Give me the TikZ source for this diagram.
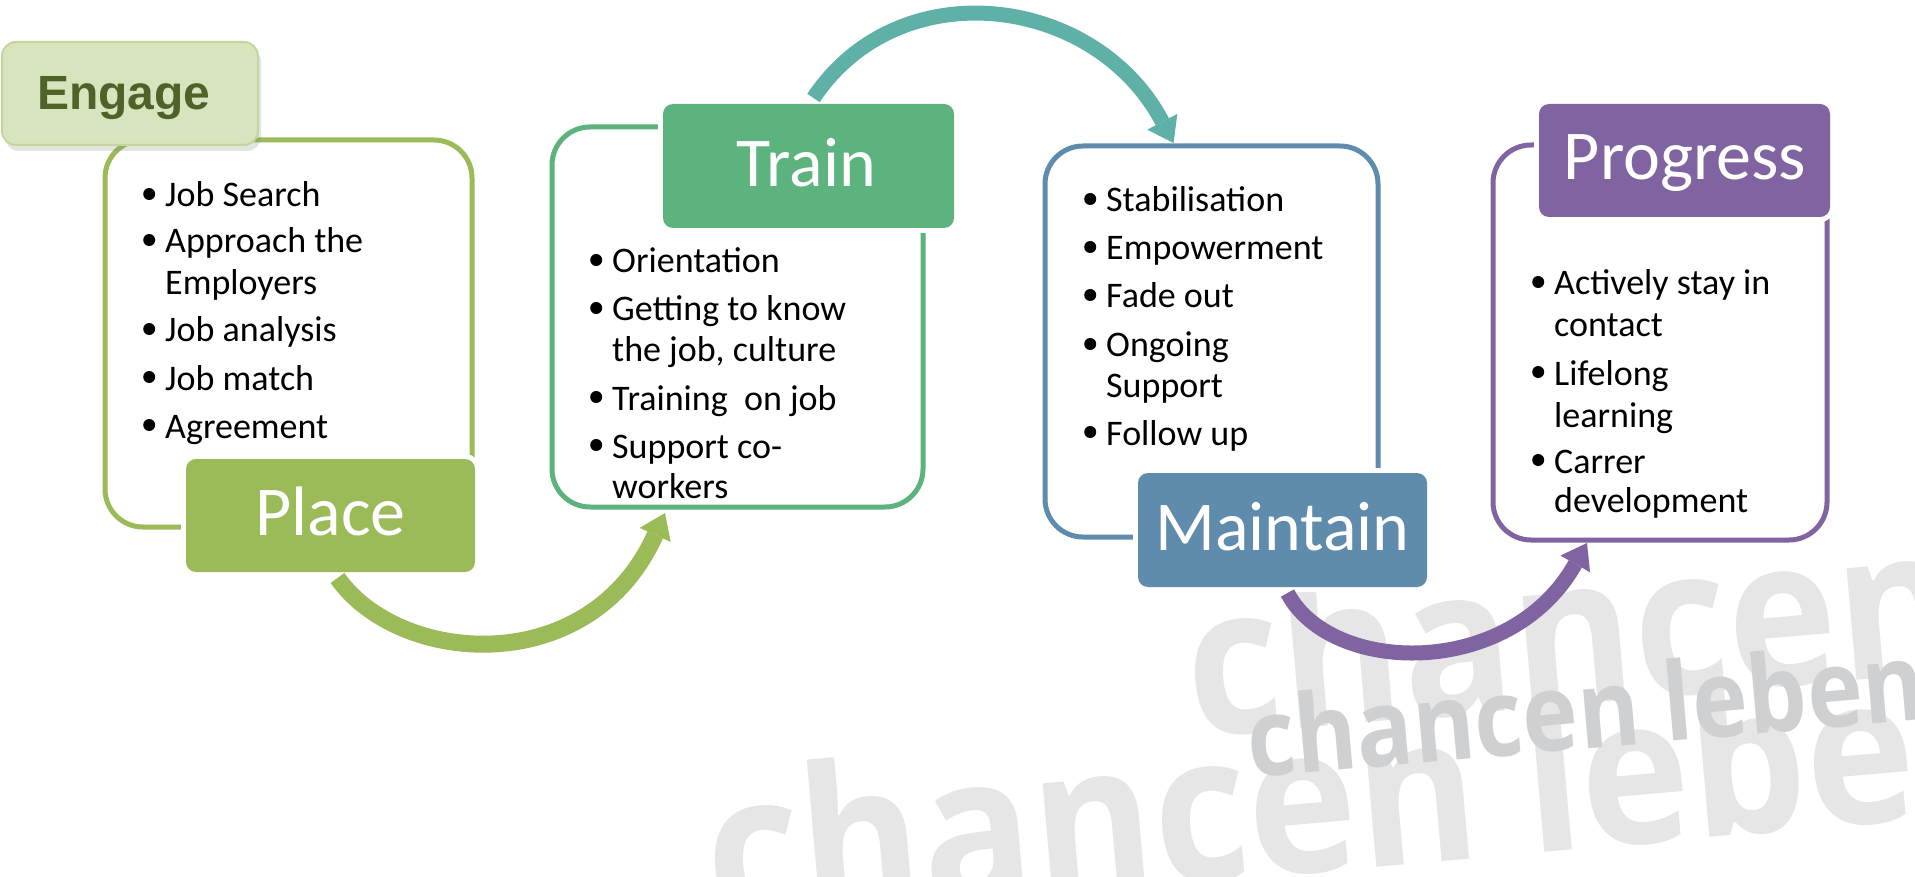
\documentclass[tikz,border=0pt]{standalone}
\usepackage{fontspec}
\setmainfont{Carlito}
\newfontfamily\engfont{Liberation Sans}
\newfontfamily\wmfont{Open Sans}
\usetikzlibrary{arrows.meta,calc,shadows}
\definecolor{placeC}{HTML}{9BBB59}
\definecolor{trainC}{HTML}{5DB37E}
\definecolor{tealC}{HTML}{5FB0A6}
\definecolor{maintC}{HTML}{5F8BAD}
\definecolor{progC}{HTML}{8064A2}
\definecolor{engFill}{HTML}{D7E4BD}
\definecolor{engLine}{HTML}{C3D69B}
\definecolor{engText}{HTML}{4F6228}
\definecolor{wmLight}{HTML}{E6E6E6}
\definecolor{wmDark}{HTML}{CFD0D2}
\newcommand\mybul{\makebox[22pt][l]{\tikz[baseline=0pt,x=1pt,y=1pt]\fill[black] (6,13) circle (6pt);}}
\begin{document}
\begin{tikzpicture}[x=1pt,y=-1pt,
  outl/.style={draw=#1, line width=5pt, rounded corners=38pt, inner sep=0pt, outer sep=0pt},
  hdr/.style={fill=#1, draw=none, rounded corners=10pt, inner sep=0pt, outer sep=0pt,
              preaction={draw=white, line width=10pt}},
  itm/.style={anchor=base west, inner sep=0pt, font=\fontsize{36}{40}\selectfont},
  lbl/.style={anchor=base, inner sep=0pt, text=white, font=\fontsize{70}{80}\selectfont},
  flow/.style={draw=#1, line width=15pt,
               -{Triangle[width=34pt,length=24pt,line width=0pt]}},
  wm/.style={anchor=base west, inner sep=0pt, rotate=5}
]
\useasboundingbox (0,0) rectangle (1915,877);
\fill[white] (0,0) rectangle (1915,877);

% watermark
\begin{scope}
\clip (0,0) rectangle (1915,877);
\node[wm, text=wmLight, xscale=0.9, font=\wmfont\bfseries\fontsize{205}{210}\selectfont] (wmA) at (1192,738) {chancen leben};
\node[wm, text=wmLight, xscale=0.9, font=\wmfont\bfseries\fontsize{205}{210}\selectfont] (wmB) at (712,925) {chancen leben};
\node[wm, text=wmDark, xscale=0.87, font=\wmfont\bfseries\fontsize{108}{110}\selectfont] (wmC) at (1250,778) {chancen leben};
\end{scope}

% outlines
\node[outl=placeC, minimum width=367pt, minimum height=387pt] (placeO) at (288.5,333.5) {};
\node[outl=trainC, minimum width=371pt, minimum height=380pt] (trainO) at (737.5,317) {};
\node[outl=maintC, minimum width=333pt, minimum height=391pt] (maintO) at (1211.5,341.5) {};
\node[outl=progC, minimum width=334pt, minimum height=395pt] (progO) at (1660,342.5) {};

% header boxes
\node[hdr=placeC, minimum width=289pt, minimum height=113pt] (placeB) at (330.5,515.5) {};
\node[hdr=trainC, minimum width=291pt, minimum height=124pt] (trainB) at (808.5,166) {};
\node[hdr=maintC, minimum width=289pt, minimum height=114pt] (maintB) at (1282.5,530) {};
\node[hdr=progC, minimum width=291pt, minimum height=113pt] (progB) at (1684.5,160.5) {};

% arrows
\draw[flow=placeC, line width=17pt] ($(placeB.south)+(7,6)$) .. controls +(62,88) and +(-75,167) .. ($(trainO.south)+(-72.5,6)$);
\draw[flow=tealC] ($(trainB.north)+(5,-6)$) .. controls +(86,-129) and +(-78,-148) .. ($(maintO.north)+(-38,-3)$);
\draw[flow=progC] ($(maintB.south)+(5,6)$) .. controls +(43,82) and +(-77,137) .. ($(progO.south)+(-73,3)$);

% Engage
\node[fill=engFill, draw=engLine, line width=2pt, rounded corners=14pt, inner sep=0pt, outer sep=0pt,
      minimum width=256pt, minimum height=103pt,
      drop shadow={opacity=0.22, shadow xshift=3pt, shadow yshift=-6pt}] (engB) at (130,93.5) {};
\node[anchor=base west, inner sep=0pt, text=engText, font=\engfont\bfseries\fontsize{48}{50}\selectfont] (engL) at (37,110) {Engage};

% labels
\node[lbl] (placeL) at (330.5,535) {Place};
\node[lbl] (trainL) at (806.5,187) {Train};
\node[lbl] (maintL) at (1282.5,550) {Maintain};
\node[lbl] (progL) at (1685,180) {Progress};

% Place items
\node[itm] (p1) at (143,207) {\mybul Job Search};
\node[itm] (p2) at (143,253) {\mybul Approach the};
\node[itm] (p3) at (165,295) {Employers};
\node[itm] (p4) at (143,342) {\mybul Job analysis};
\node[itm] (p5) at (143,390) {\mybul Job match};
\node[itm] (p6) at (143,438) {\mybul Agreement};

% Train items
\node[itm] (t1) at (590,273) {\mybul Orientation};
\node[itm] (t2) at (590,321) {\mybul Getting to know};
\node[itm] (t3) at (612,362) {the job, culture};
\node[itm] (t4) at (590,410) {\mybul Training\ \ on job};
\node[itm] (t5) at (590,458) {\mybul Support co-};
\node[itm] (t6) at (612,498) {workers};

% Maintain items
\node[itm] (m1) at (1084,212) {\mybul Stabilisation};
\node[itm] (m2) at (1084,260) {\mybul Empowerment};
\node[itm] (m3) at (1084,308) {\mybul Fade out};
\node[itm] (m4) at (1084,357) {\mybul Ongoing};
\node[itm] (m5) at (1106,397) {Support};
\node[itm] (m6) at (1084,445) {\mybul Follow up};

% Progress items
\node[itm] (g1) at (1532,295) {\mybul Actively stay in};
\node[itm] (g2) at (1554,337) {contact};
\node[itm] (g3) at (1532,385) {\mybul Lifelong};
\node[itm] (g4) at (1554,427) {learning};
\node[itm] (g5) at (1532,473) {\mybul Carrer};
\node[itm] (g6) at (1554,512) {development};
\end{tikzpicture}
\end{document}
